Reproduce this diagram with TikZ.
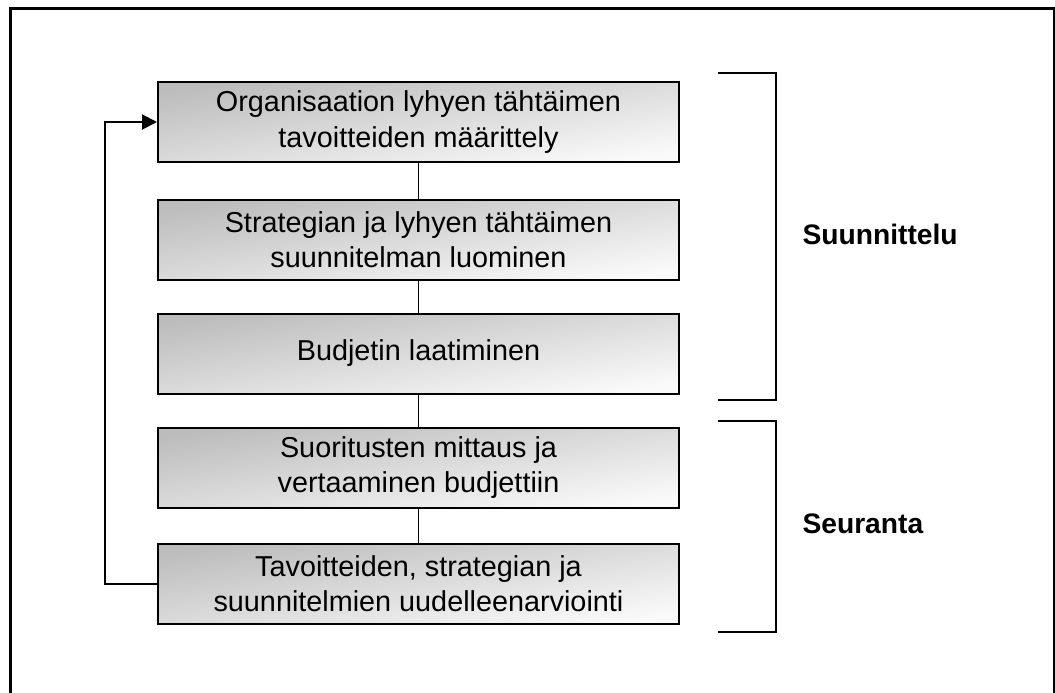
\documentclass[tikz,border=0pt]{standalone}
\usepackage{fontspec}
\setmainfont{Liberation Sans}
\usetikzlibrary{arrows.meta}
\definecolor{boxdark}{RGB}{188,188,188}
\definecolor{boxlight}{RGB}{250,250,250}
\begin{document}
\begin{tikzpicture}[x=1pt,y=-1pt,
  stepbox/.style={draw=black, line width=2pt, rectangle, inner sep=0pt,
    minimum width=521pt, minimum height=80pt, align=center,
    top color=boxdark, bottom color=boxlight, shading angle=9,
    font=\fontsize{28.8}{35.5}\selectfont},
  conn/.style={draw=black, line width=1.6pt},
  bracket/.style={draw=black, line width=2pt},
  phase/.style={anchor=base west, font=\fontsize{28.2}{32}\selectfont\bfseries}]
\useasboundingbox (0,0) rectangle (1055,693);
\draw[line width=3pt] (10,710) -- (10,9) -- (1054,9) -- (1054,710);

\node[stepbox] (b1) at (418.5,122) {Organisaation lyhyen tähtäimen\\tavoitteiden määrittely};
\node[stepbox] (b2) at (418.5,239.5) {Strategian ja lyhyen tähtäimen\\suunnitelman luominen};
\node[stepbox] (b3) at (418.5,353.5) {Budjetin laatiminen};
\node[stepbox] (b4) at (418.5,467.5) {Suoritusten mittaus ja\\vertaaminen budjettiin};
\node[stepbox] (b5) at (418.5,583.5) {Tavoitteiden, strategian ja\\suunnitelmien uudelleenarviointi};

\draw[conn] (b1.south) -- (b2.north);
\draw[conn] (b2.south) -- (b3.north);
\draw[conn] (b3.south) -- (b4.north);
\draw[conn] (b4.south) -- (b5.north);

\coordinate (fb) at (105,583.5);
\draw[conn, line width=2pt, -{Triangle[length=15pt,width=15pt]}] (b5.west) -- (fb) |- (b1.west);

\draw[bracket] (718,73) -- (776,73) -- (776,400) -- (718,400);
\draw[bracket] (718,421) -- (776,421) -- (776,632) -- (718,632);

\node[phase] (p1) at (799,244) {Suunnittelu};
\node[phase] (p2) at (799,533) {Seuranta};
\end{tikzpicture}
\end{document}
